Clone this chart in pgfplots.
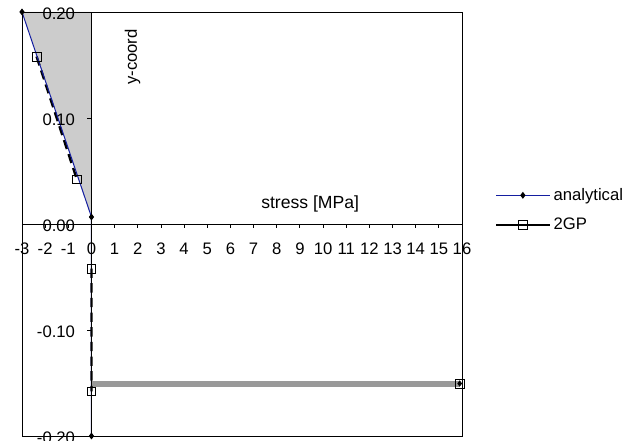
\documentclass[border=0pt]{standalone}
\usepackage{fontspec}
\setmainfont{Liberation Sans}
\usepackage{pgfplots}
\pgfplotsset{compat=1.18}
\definecolor{anblue}{RGB}{20,30,160}
\newcommand{\cf}{\fontsize{12.5}{14.5}\selectfont}
\begin{document}
\cf
\begin{tikzpicture}[x=1pt,y=1pt]
\useasboundingbox (0,0) rectangle (481.5,330.75);
\begin{axis}[
  at={(16.5pt,3.75pt)}, anchor=south west,
  scale only axis, width=330pt, height=318pt,
  xmin=-3, xmax=16, ymin=-0.2, ymax=0.2,
  axis on top,
  axis lines=middle, axis line style={-, line width=0.6pt},
  hide obscured x ticks=false, hide obscured y ticks=false,
  xtick={-3,...,16}, ytick={-0.2,-0.1,0,0.1,0.2},
  /pgf/number format/assume math mode=true,
  tick label style={font=\cf},
  yticklabel style={/pgf/number format/fixed, /pgf/number format/fixed zerofill, /pgf/number format/precision=2, anchor=east, xshift=-5pt, yshift=-1.5pt},
  xticklabel style={/pgf/number format/fixed, anchor=north, yshift=-7pt},
  tick align=outside, major tick length=3pt,
  tick style={black, line width=0.6pt},
  clip=false,
  unbounded coords=jump,
  legend style={draw=none, fill=none, at={(1.065,0.598)}, anchor=north west,
    cells={anchor=west}, row sep=7.5pt, font=\cf},
  legend image code/.code={\draw[mark repeat=2, mark phase=2, #1] plot coordinates {(0pt,0pt) (20pt,0pt) (40pt,0pt)};},
]
% shaded stress area
\addplot[fill=black!20, draw=none, forget plot] coordinates {(-3,0.2) (0,0.2) (0,0.0066)} -- cycle;
% reinforcement stress
\addplot[black!40, line width=4.5pt, forget plot] coordinates {(0,-0.1505) (15.9,-0.1505)};
% 2GP
\addplot[black, line width=1.8pt, dash pattern=on 7pt off 4pt, mark=square, mark size=3.3pt,
  mark options={solid, line width=0.6pt, fill=none}, forget plot]
  coordinates {(-2.37,0.158) (-0.63,0.042) (nan,nan) (0,-0.042) (0,-0.158)};
\addplot[black, only marks, mark=square, mark size=3.3pt,
  mark options={solid, line width=0.6pt, fill=none}, forget plot]
  coordinates {(15.9,-0.1505)};
% analytical
\addplot[anblue, line width=0.75pt, mark=diamond*, mark size=2pt, mark options={black}, forget plot]
  coordinates {(-3,0.2) (0,0.0066) (0,-0.2)};
\addplot[black, only marks, mark=diamond*, mark size=2pt, forget plot]
  coordinates {(15.9,-0.1505)};
\draw[black, line width=0.6pt] (rel axis cs:0,0) rectangle (rel axis cs:1,1);
\node[rotate=90, font=\cf] at (axis cs:1.77,0.1575) {y-coord};
\node[font=\fontsize{13.2}{15}\selectfont, anchor=base west, inner sep=0pt] at (axis cs:7.32,0.0142) {stress [MPa]};
\addlegendimage{anblue, line width=0.75pt, mark=diamond*, mark size=2pt, mark options={black}}
\addlegendentry{analytical}
\addlegendimage{black, line width=2pt, mark=square, mark size=3.3pt, mark options={solid, line width=0.6pt, fill=white}}
\addlegendentry{2GP}
\end{axis}
\end{tikzpicture}
\end{document}
